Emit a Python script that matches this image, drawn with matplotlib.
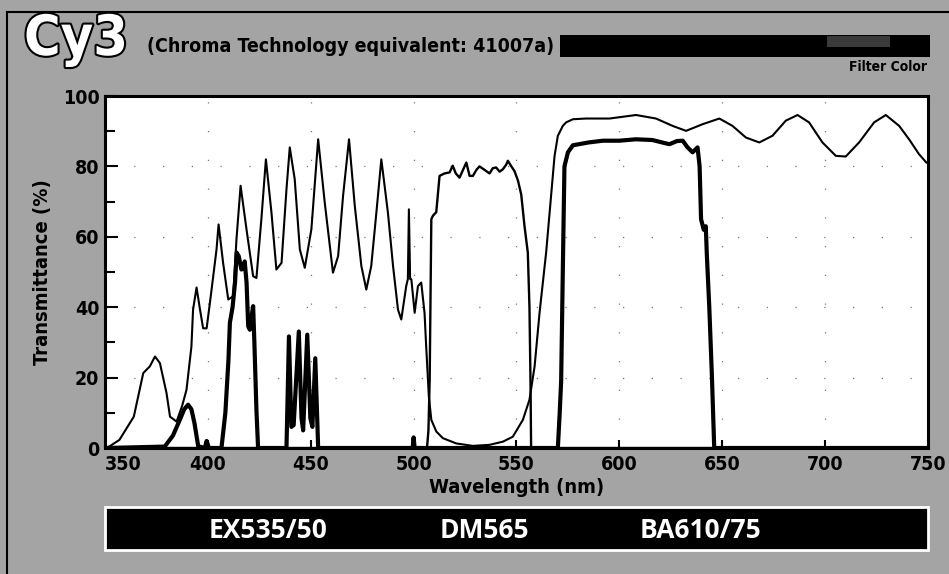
# -*- coding: utf-8 -*-
import matplotlib
matplotlib.use('Agg');
import matplotlib.pyplot as plt;
from matplotlib.patches import Rectangle;
from matplotlib.lines import Line2D;
import matplotlib.patheffects as pe;

# DM565 dichroic (thin line)
dm_wl = [350, 352, 357, 364, 368.6, 371.8, 374.3, 376.7, 379.9, 381.6, 384.8, 387.5, 389.6,
         392, 392.8, 394.5, 396.1, 397.7, 399.4, 401, 402.6, 404.2, 405.2, 407.4, 409.9, 412.3,
         413.9, 415.9, 418.8, 422, 423.6, 426, 428.2, 430.9, 433.3, 435.8, 438.2, 439.8, 442.2,
         444.7, 447.1, 450.3, 453.6, 456.8, 460.8, 463.3, 465.7, 468.6, 471.4, 474.6, 477, 479.4,
         481.9, 484.3, 487.5, 490, 492.4, 494, 496.4, 497.2, 497.7, 498.3, 498.9, 500.5, 502.1,
         503.7, 505.3, 506.1, 507.4, 508.6, 511, 514.2, 520.7, 528.8, 536.9, 543.4, 548.2, 553.1,
         556.3, 558.8, 561.2, 564.4, 566.8, 568.5, 570.1, 572.5, 574.1, 577.4, 583.8, 595.2, 608.1,
         617.8, 625.9, 632.4, 640.5, 648.6, 655, 661.5, 668, 674.4, 680.9, 686.6, 692.2, 698.7,
         705.2, 710, 716.5, 723.8, 729.5, 736, 740.8, 745.6, 749.2];
dm_t = [0, 0.4, 2.3, 8.9, 21.3, 23.2, 26, 24.1, 15.6, 8.9, 7.5, 12, 16.5,
        28.8, 39.3, 45.6, 39.6, 34, 34, 41.3, 48.8, 56.4, 63.5, 52.6, 42.2, 43.1,
        59.3, 74.5, 62, 48.8, 48.3, 65, 82, 66.9, 50.7, 52.6, 73.5, 85.4, 76.4,
        56.4, 51.2, 62.1, 87.7, 69.7, 49.8, 54.5, 71.6, 87.7, 68.8, 51.7, 45, 51.7,
        66.9, 82, 66.9, 51.7, 39.3, 36.5, 46, 48, 67.8, 48, 47.9, 38.4, 46,
        47, 38.4, 28.9, 14.6, 8, 4.7, 2.8, 1.3, 0.6, 0.9, 1.8, 3.2, 8,
        13.7, 23.2, 38.4, 55.5, 71.6, 83, 88.7, 91.5, 92.5, 93.4, 93.6, 93.6, 94.6,
        93.6, 91.5, 90.1, 92, 93.6, 91.5, 88.2, 86.8, 88.7, 93, 94.6, 92.5, 86.8,
        83, 82.8, 86.8, 92.5, 94.6, 91.5, 87.7, 83.5, 81.1];

# EX535/50 exciter
ex_wl = [350, 506.5, 507.2, 507.8, 508.6, 509.4, 511, 512.6, 515, 517.5, 519, 520.5, 522.3,
         524, 525.6, 527.2, 528.8, 530.5, 532, 534.5, 536.9, 538.5, 540.1, 541.8, 543.4, 545,
         545.8, 547.5, 549, 550.7, 552.3, 553.9, 555.5, 556.3, 556.8, 557.1, 750];
ex_t = [0, 0, 5, 19.4, 65, 66, 67, 77.3, 78, 78.3, 80.2, 78, 76.8,
        79, 81.1, 77.3, 77.3, 79, 80, 79, 78, 79.5, 79.7, 78.5, 79.2, 80.5,
        81.6, 80, 78.7, 76, 72, 63, 55.5, 40, 19, 0, 0];

# BA610/75 barrier (thick line)
ba_wl = [350, 379, 383, 386, 388.5, 390.4, 392, 393.5, 395.3, 398.5, 399.4, 400.5, 406.6,
         408.5, 410, 410.7, 412, 413.2, 414, 415, 416.3, 417.2, 417.9, 418.8, 419.6, 420.4,
         421.4, 422, 422.6, 423.6, 424.4, 438.2, 439.4, 440.6, 441.7, 444.2, 445.5, 446.3,
         448.3, 449.8, 450.8, 452.2, 453.6, 499.5, 500, 500.5, 570.1, 571, 571.7, 572.5, 573.3,
         575, 577.4, 585, 592, 600, 608, 616, 624.3, 628, 630.8, 633, 635.6, 638, 639, 639.7,
         641, 642, 642.5, 643.7, 645, 646.1, 750];
ba_t = [0, 0.4, 3.5, 7.5, 11, 12.3, 11, 7, 0.5, 0, 2, 0, 0,
        10, 25, 35.6, 40, 47, 55.5, 54.5, 50.7, 51, 53, 47, 34.6, 33.6,
        38, 40.3, 30, 10.8, 0, 0, 31.7, 6, 6.5, 33.1, 8.5, 5,
        32.2, 8.5, 6, 25.5, 0, 0, 3, 0, 0, 10, 19, 50, 80,
        84, 86, 86.8, 87.3, 87.3, 87.7, 87.5, 86.3, 87.2, 87.3, 85.5, 84, 85.4, 80, 65,
        62, 63, 55, 40, 20, 0, 0];

x_ticks = [350, 400, 450, 500, 550, 600, 650, 700, 750];
y_ticks = [0, 20, 40, 60, 80, 100];
filter_names = ['EX535/50', 'DM565', 'BA610/75'];

narrow = dict(family='DejaVu Sans', stretch='condensed', fontweight='bold');
W, H = 949.0, 574.0;

fig = plt.figure(figsize=(9.49, 5.74), dpi=100, facecolor='#a4a4a4');
ax = fig.add_axes([105/W, 1-448/H, 823/W, 352/H]);
ax.set_facecolor('white');

ax.plot(dm_wl, dm_t, color='black', lw=1.5, zorder=3);
ax.plot(ex_wl, ex_t, color='black', lw=1.7, zorder=3);
ax.plot(ba_wl, ba_t, color='black', lw=3.0, zorder=4);

ax.set_xlim(350, 750);
ax.set_ylim(0, 100);
ax.set_xticks(x_ticks);
ax.set_yticks(y_ticks);
ax.set_yticks(range(10, 100, 20), minor=True);
ax.grid(True, color='#777777', lw=0.9, linestyle=(0, (1, 22)));
ax.tick_params(axis='both', which='both', direction='in', top=False, right=False, width=1.5, colors='black');
ax.tick_params(axis='x', length=6, pad=5);
ax.tick_params(axis='y', which='major', length=9, pad=4);
ax.tick_params(axis='y', which='minor', length=7);
for lab in ax.get_xticklabels() + ax.get_yticklabels():
    lab.set_family('DejaVu Sans');
    lab.set_stretch('condensed');
    lab.set_fontweight('bold');
    lab.set_fontsize(14);
ax.get_xticklabels()[0].set_horizontalalignment('left');
for sp in ax.spines.values():
    sp.set_linewidth(2.2);

ax.set_xlabel('Wavelength (nm)', fontsize=14.5, labelpad=3, **narrow);
ax.set_ylabel('Transmittance (%)', fontsize=14.5, labelpad=8, **narrow);

# outer frame (left and top)
fig.add_artist(Line2D([7/W, 7/W], [0, 1-12/H], color='black', lw=1.5));
fig.add_artist(Line2D([7/W, 1], [1-12/H, 1-12/H], color='black', lw=1.5));

# title row
fig.text(24/W, 1-40/H, 'Cy3', fontsize=40, color='white', va='center', ha='left',
         path_effects=[pe.withStroke(linewidth=3, foreground='black')], **narrow);
fig.text(147/W, 1-47/H, '(Chroma Technology equivalent: 41007a)', fontsize=14, color='black',
         va='center', ha='left', **narrow);
fig.add_artist(Rectangle((560/W, 1-57/H), 370/W, 22/H, transform=fig.transFigure, facecolor='black', edgecolor='none'));
fig.add_artist(Rectangle((827/W, 1-47/H), 63/W, 11/H, transform=fig.transFigure, facecolor='#3a3a3a', edgecolor='none'));
fig.text(927/W, 1-67/H, 'Filter Color', fontsize=10, color='black', va='center', ha='right', **narrow);

# filter name strip
fig.add_artist(Rectangle((105/W, 1-550/H), 823/W, 43/H, transform=fig.transFigure,
                         facecolor='black', edgecolor='white', lw=2));
for name, xc in zip(filter_names, [268, 484, 700]):
    fig.text(xc/W, 1-530/H, name, family=['Open Sans', 'DejaVu Sans'], fontweight='bold', fontsize=19,
             color='white', va='center', ha='center');

plt.savefig('out.png', dpi=100, facecolor=fig.get_facecolor());
